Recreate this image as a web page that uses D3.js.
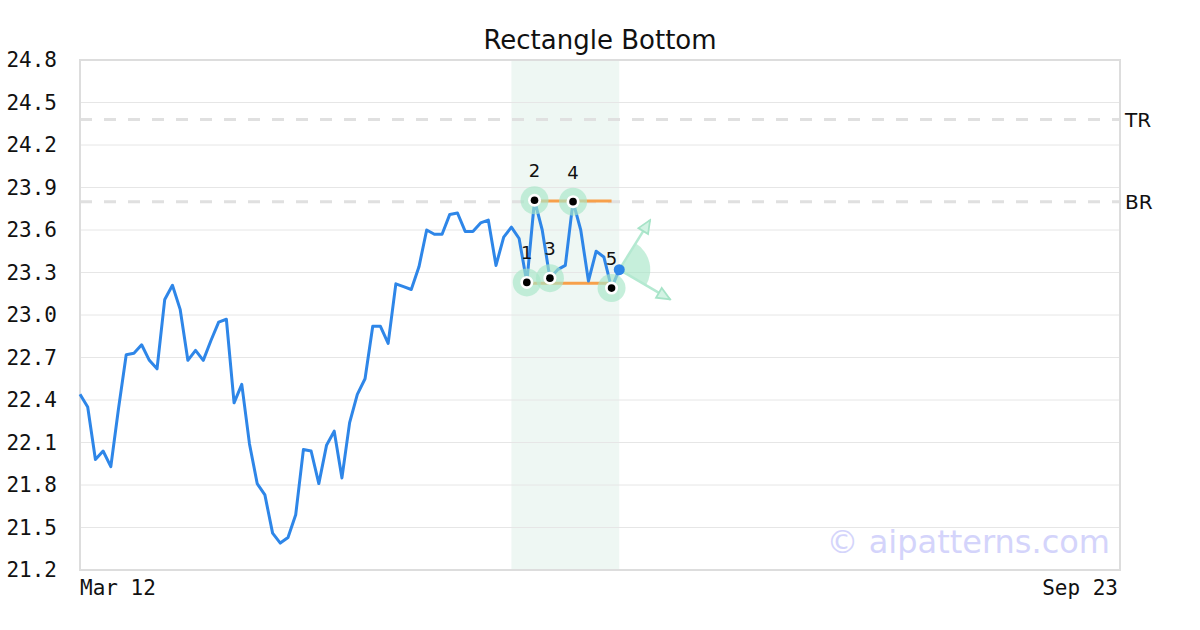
<!doctype html>
<html>
<head>
  <meta charset="utf-8">
  <title>Rectangle Bottom</title>
  <script src="https://cdnjs.cloudflare.com/ajax/libs/d3/7.8.5/d3.min.js"></script>
  <style>
    body { margin: 0; background: #fff; }
    .tick-label { font-family: 'DejaVu Sans Mono', monospace; font-size: 21px; fill: #111; }
  </style>
</head>
<body>
  <div id="chart"></div>
  <script>
    // price series, one value per trading day
    var closes = [
      22.44, 22.35, 21.98, 22.04, 21.93, 22.34, 22.72, 22.73, 22.79, 22.68,
      22.62, 23.11, 23.21, 23.04, 22.68, 22.75, 22.68, 22.82, 22.95, 22.97,
      22.38, 22.51, 22.09, 21.81, 21.73, 21.46, 21.39, 21.43, 21.59, 22.05,
      22.04, 21.81, 22.08, 22.18, 21.85, 22.24, 22.44, 22.55, 22.92, 22.92,
      22.80, 23.22, 23.20, 23.18, 23.34, 23.60, 23.57, 23.57, 23.71, 23.72,
      23.59, 23.59, 23.65, 23.67, 23.35, 23.55, 23.62, 23.54, 23.23, 23.81,
      23.60, 23.26, 23.32, 23.35, 23.80, 23.60, 23.24, 23.45, 23.41, 23.19,
      23.32
    ];
    var totalDays = 135;
    var yTicks = [21.2, 21.5, 21.8, 22.1, 22.4, 22.7, 23.0, 23.3, 23.6, 23.9, 24.2, 24.5, 24.8];
    var xLabels = [{ i: 0, text: "Mar 12" }, { i: 135, text: "Sep 23" }];
    var levelNames = ["TR", "BR"];
    var levelValues = [24.38, 23.80];
    var pivotIdx = [58, 59, 61, 64, 69];
    var pivotNames = ["1", "2", "3", "4", "5"];
    var band = [56, 70];
    var topLine = { from: 59, to: 69, value: 23.805 };
    var bottomLine = { from: 58, to: 69, value: 23.225 };
    var arrowTips = [{ i: 74.0, v: 23.67 }, { i: 76.6, v: 23.11 }];

    var width = 1200, height = 630;
    var margin = { top: 60, right: 80, bottom: 60, left: 80 };

    var x = d3.scaleLinear().domain([0, totalDays]).range([margin.left, width - margin.right]);
    var y = d3.scaleLinear().domain([21.2, 24.8]).range([height - margin.bottom, margin.top]);

    var svg = d3.select("#chart").append("svg").attr("width", width).attr("height", height);

    svg.append("defs").append("marker")
      .attr("id", "arrowHead")
      .attr("viewBox", "0 0 10 10")
      .attr("refX", 9).attr("refY", 5)
      .attr("markerWidth", 6.5).attr("markerHeight", 6.5)
      .attr("markerUnits", "strokeWidth")
      .attr("orient", "auto")
      .append("path")
      .attr("d", "M1,1.5 L9,5 L1,8.5 Z")
      .attr("fill", "#d3f3e4")
      .attr("stroke", "#a6e3c7")
      .attr("stroke-width", 1.1);

    // shaded pattern window
    svg.append("rect")
      .attr("x", x(band[0])).attr("y", margin.top)
      .attr("width", x(band[1]) - x(band[0]))
      .attr("height", height - margin.top - margin.bottom)
      .attr("fill", "#eef7f3");

    // grid
    svg.append("g").selectAll("line")
      .data(yTicks)
      .join("line")
      .attr("x1", margin.left).attr("x2", width - margin.right)
      .attr("y1", d => y(d)).attr("y2", d => y(d))
      .attr("stroke", "#e6e6e6").attr("stroke-width", 1);

    // TR / BR levels
    svg.append("g").selectAll("line")
      .data(levelValues)
      .join("line")
      .attr("x1", margin.left).attr("x2", width - margin.right)
      .attr("y1", d => y(d)).attr("y2", d => y(d))
      .attr("stroke", "#e0e0e0").attr("stroke-width", 3)
      .attr("stroke-dasharray", "12,12");

    svg.append("g").selectAll("text")
      .data(levelValues)
      .join("text")
      .attr("x", width - margin.right + 5)
      .attr("y", d => y(d) + 7)
      .attr("font-family", "DejaVu Sans, sans-serif")
      .attr("font-size", 20)
      .attr("fill", "#111")
      .text((d, i) => levelNames[i]);

    // border
    svg.append("rect")
      .attr("x", margin.left).attr("y", margin.top)
      .attr("width", width - margin.left - margin.right)
      .attr("height", height - margin.top - margin.bottom)
      .attr("fill", "none").attr("stroke", "#dddddd").attr("stroke-width", 2);

    // y tick labels
    svg.append("g").selectAll("text")
      .data(yTicks)
      .join("text")
      .attr("class", "tick-label")
      .attr("x", 57)
      .attr("y", d => y(d) + 7)
      .attr("text-anchor", "end")
      .text(d => d.toFixed(1));

    // x labels
    svg.append("g").selectAll("text")
      .data(xLabels)
      .join("text")
      .attr("class", "tick-label")
      .attr("x", (d, i) => i == 0 ? x(d.i) : x(d.i) - 2)
      .attr("y", 595)
      .attr("text-anchor", (d, i) => i == 0 ? "start" : "end")
      .text(d => d.text);

    // title
    svg.append("text")
      .attr("x", width / 2).attr("y", 49)
      .attr("text-anchor", "middle")
      .attr("font-family", "DejaVu Sans, sans-serif")
      .attr("font-size", 26)
      .attr("fill", "#111")
      .text("Rectangle Bottom");

    // watermark
    svg.append("text")
      .attr("x", 1110).attr("y", 553)
      .attr("text-anchor", "end")
      .attr("font-family", "DejaVu Sans, sans-serif")
      .attr("font-size", 32)
      .attr("fill", "#d4d4fb")
      .text("\u00a9 aipatterns.com");

    // rectangle boundaries
    svg.append("g").selectAll("line")
      .data([topLine, bottomLine])
      .join("line")
      .attr("x1", d => x(d.from)).attr("x2", d => x(d.to))
      .attr("y1", d => y(d.value)).attr("y2", d => y(d.value))
      .attr("stroke", "#f7a04a").attr("stroke-width", 3);

    // projection wedge + arrows from last point
    var last = closes.length - 1;
    var ox = x(last), oy = y(closes[last]);
    var angles = arrowTips.map(t => Math.atan2(x(t.i) - ox, -(y(t.v) - oy)));
    svg.append("path")
      .attr("transform", `translate(${ox},${oy})`)
      .attr("d", d3.arc().innerRadius(0).outerRadius(31).startAngle(angles[0]).endAngle(angles[1])())
      .attr("fill", "#a8e6c8").attr("opacity", 0.65);

    svg.append("g").selectAll("line")
      .data(arrowTips)
      .join("line")
      .attr("x1", ox).attr("y1", oy)
      .attr("x2", d => x(d.i)).attr("y2", d => y(d.v))
      .attr("stroke", "#b4e9d1").attr("stroke-width", 2.5)
      .attr("marker-end", "url(#arrowHead)");

    // price line
    svg.append("path")
      .datum(closes)
      .attr("d", d3.line().x((d, i) => x(i)).y(d => y(d)))
      .attr("fill", "none")
      .attr("stroke", "#2e86e8")
      .attr("stroke-width", 3)
      .attr("stroke-linejoin", "round");

    // pivot markers
    var pivots = svg.append("g").selectAll("g")
      .data(pivotIdx)
      .join("g")
      .attr("transform", d => `translate(${x(d)},${y(closes[d])})`);
    pivots.append("circle").attr("r", 14).attr("fill", "#a8e6c8").attr("opacity", 0.65);
    pivots.append("circle").attr("r", 6.5).attr("fill", "#fff");
    pivots.append("circle").attr("r", 3.8).attr("fill", "#000");
    pivots.append("text")
      .attr("y", -23)
      .attr("text-anchor", "middle")
      .attr("font-family", "DejaVu Sans, sans-serif")
      .attr("font-size", 18)
      .attr("fill", "#111")
      .text((d, i) => pivotNames[i]);

    // current point
    svg.append("circle")
      .attr("cx", ox).attr("cy", oy)
      .attr("r", 5.5).attr("fill", "#2e86e8");
  </script>
</body>
</html>
